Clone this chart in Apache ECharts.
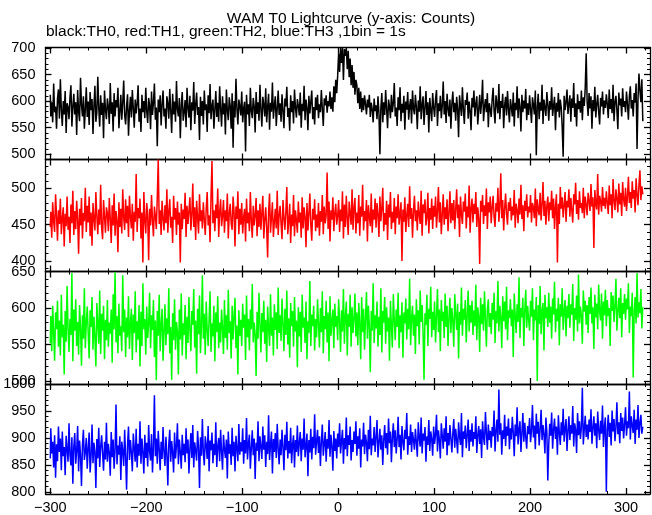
<!DOCTYPE html>
<html>
<head>
<meta charset="utf-8">
<script src="https://cdn.jsdelivr.net/npm/echarts@6/dist/echarts.min.js"></script>
<style>html,body{margin:0;padding:0;background:#fff;}#chart{width:652px;height:515px;}</style>
</head>
<body>
<div id="chart"></div>
<script>
// ---- data (1 bin = 1 s, first bin at t = -300 s) ----
const T_START = -300;
const BIN = 1;

const th0 = [
612,571,598,560,633,579,590,548,605,622,567,641,584,553,600,575,619,540,596,588,
566,607,630,552,589,614,575,598,536,621,580,562,644,593,571,609,548,585,626,570,
599,555,617,583,604,538,592,629,561,578,646,587,552,611,574,597,530,620,583,566,
605,589,557,634,576,598,543,615,571,602,588,625,549,580,612,565,597,639,574,556,
590,613,535,582,608,569,621,586,550,603,577,595,630,561,586,542,612,579,600,568,
625,581,559,606,592,547,618,574,597,633,565,588,515,603,579,611,554,594,620,571,
586,548,609,596,567,623,582,540,614,575,599,561,638,584,571,606,530,592,617,563,
579,602,551,625,587,569,610,545,598,582,636,557,593,616,574,589,527,608,572,600,
556,620,583,594,542,611,577,632,566,590,603,548,584,619,570,597,561,628,586,552,
609,575,596,537,622,583,564,607,591,548,615,512,600,569,642,585,556,603,590,573,
618,560,587,599,505,612,575,594,553,625,581,568,606,590,541,617,576,598,563,631,
584,552,608,593,571,624,560,589,614,546,597,580,635,567,592,609,553,586,620,574,
596,561,613,582,549,605,590,627,570,587,544,611,579,600,558,622,588,569,604,591,
573,616,550,595,581,629,564,603,587,545,610,577,598,620,566,589,556,607,583,612,
568,594,579,621,586,553,605,592,611,578,600,590,618,585,607,580,628,598,640,615,
648,690,655,700,672,700,640,698,685,700,660,695,645,680,630,668,625,655,612,640,
630,596,625,585,618,579,606,583,611,594,575,603,588,612,570,597,584,560,605,581,
592,566,609,578,500,587,615,560,598,574,621,585,549,603,590,568,612,579,596,634,
571,588,553,607,583,626,562,595,578,610,546,599,584,617,565,591,604,558,620,586,
575,612,589,547,601,580,628,566,593,609,555,587,619,574,598,541,606,583,562,615,
589,570,604,621,553,596,581,610,568,592,637,575,600,559,614,586,571,603,548,594,
618,579,597,563,608,585,532,611,590,572,626,584,557,602,593,616,567,599,581,545,
606,588,620,571,595,609,556,583,612,576,598,640,562,589,604,579,615,551,596,585,
570,603,625,582,558,611,594,577,632,566,600,587,614,549,592,608,573,619,585,560,
604,589,571,616,552,597,583,628,568,605,590,543,612,579,601,586,623,564,596,574,
611,585,559,607,593,575,620,498,589,614,566,598,582,631,557,603,588,572,617,594,
563,600,584,626,572,591,608,545,597,580,615,569,603,588,551,495,610,583,598,622,
576,594,611,561,605,587,634,570,596,552,613,585,600,578,620,564,607,591,625,690,
598,572,615,586,609,548,602,581,627,569,594,612,580,556,606,590,618,575,601,587,
613,594,568,622,585,604,577,631,562,598,610,583,547,616,592,605,571,624,589,600,
579,618,594,565,609,628,586,602,571,615,597,633,510,604,652,620,598,641,562
];

const th1 = [
447,468,432,481,455,440,492,463,428,470,451,486,437,459,474,420,465,448,489,443,
461,425,478,452,497,436,469,444,483,458,410,472,449,487,431,466,455,501,440,476,
453,489,434,467,421,480,458,442,495,462,437,471,450,505,446,430,484,461,439,474,
466,441,487,458,425,477,449,493,435,469,456,412,481,447,472,438,499,460,443,485,
452,476,433,490,461,445,479,428,468,454,520,440,473,459,486,431,467,398,495,457,
438,480,463,401,472,449,491,456,434,475,462,444,488,540,451,470,436,483,459,442,
477,452,499,439,468,485,446,461,425,490,457,473,436,482,450,467,398,479,444,471,
458,494,433,476,451,469,488,442,463,507,447,474,429,483,460,438,492,455,470,445,
481,457,436,472,495,449,463,426,488,538,452,470,441,478,459,500,433,467,485,448,
462,484,439,470,455,493,431,466,479,452,443,489,468,420,475,458,496,437,472,450,
480,438,461,472,427,486,452,467,441,495,455,432,476,449,463,487,434,470,447,479,
443,466,490,431,457,474,446,405,468,493,439,460,481,433,454,472,445,497,436,463,
476,451,430,484,460,443,468,502,437,455,479,425,464,448,491,434,470,456,439,482,
453,467,432,488,445,474,461,419,480,442,465,493,450,428,472,457,485,441,464,446,
480,435,469,454,491,437,475,452,463,522,444,482,427,470,457,488,441,466,479,450,
462,484,440,471,455,496,431,478,447,490,458,436,482,465,450,499,443,473,487,438,
467,452,491,435,475,461,505,442,469,455,484,427,477,462,448,493,439,471,457,486,
446,480,464,433,489,455,472,501,441,466,450,483,429,478,460,495,444,468,453,487,
437,475,459,492,450,465,481,400,471,454,488,440,463,479,447,503,458,473,432,469,
490,455,470,442,482,463,451,497,435,478,466,485,449,460,494,438,473,457,486,444,
476,461,489,446,469,502,453,481,437,465,492,450,474,458,485,441,467,496,452,480,
456,484,444,470,499,459,478,433,489,464,451,482,468,493,445,475,460,504,439,472,
486,453,479,465,495,447,474,459,396,483,468,491,451,477,462,500,444,481,467,489,
452,474,490,461,447,480,468,501,454,476,521,459,484,442,472,493,465,450,481,469,
487,456,475,463,498,446,479,470,452,486,464,505,458,477,441,483,469,492,460,475,
467,491,453,480,474,459,500,448,485,471,463,494,456,478,509,462,483,450,476,489,
455,481,470,497,459,486,444,475,492,398,479,451,502,472,488,460,477,495,454,483,
474,499,461,487,470,453,492,478,508,465,484,457,496,473,480,466,501,459,489,477,
463,494,482,469,506,475,488,418,498,479,471,520,464,490,483,468,502,476,487,472,
496,481,465,504,477,492,459,513,483,470,499,486,467,507,478,494,462,509,485,475,
501,469,488,516,480,495,473,510,486,498,467,514,491,477,505,525,484,503,492
];

const th2 = [
552,589,541,603,566,528,594,571,610,547,583,535,618,560,577,509,596,554,630,572,
540,585,563,648,527,598,569,612,548,581,536,604,573,521,590,558,627,545,579,602,
566,531,597,574,615,543,588,560,520,607,578,551,624,537,592,569,603,530,584,556,
611,547,580,565,598,525,619,571,649,553,589,538,606,562,575,541,645,567,598,533,
587,560,616,544,578,599,529,591,566,623,539,582,557,604,520,595,548,634,571,585,
536,602,559,578,621,545,590,570,611,533,583,501,596,562,618,541,577,599,528,567,
605,549,586,564,627,538,574,502,593,556,612,543,581,568,509,598,557,620,535,579,
563,604,530,588,552,615,571,541,596,577,626,546,583,510,599,564,617,538,575,645,
558,592,536,609,571,548,585,623,540,579,561,603,527,594,567,616,545,580,553,598,
572,537,611,559,590,543,625,566,582,531,603,557,588,614,545,576,509,597,562,584,
548,606,573,591,529,617,560,585,542,598,571,633,553,580,564,507,595,558,621,577,
539,593,567,610,551,584,526,602,573,548,619,562,587,535,605,570,594,544,628,566,
590,555,613,578,541,599,563,624,550,586,532,607,575,596,547,615,568,583,519,601,
561,595,540,618,573,587,552,609,530,582,566,637,548,591,575,603,542,585,560,612,
578,546,600,567,623,538,589,571,610,553,594,527,616,562,581,598,545,606,574,589,
556,612,583,540,597,568,626,551,588,609,535,592,574,618,547,601,566,585,620,561,
594,549,607,578,530,615,567,599,543,586,622,558,603,575,512,596,569,634,552,590,
572,609,547,588,563,627,539,596,580,615,551,601,568,587,528,610,575,546,619,583,
556,598,574,621,545,590,567,608,532,594,579,613,557,599,571,640,549,586,603,562,
591,537,612,575,597,550,624,581,604,566,502,593,577,618,548,599,585,629,560,595,
570,609,553,588,626,567,598,541,611,582,595,559,620,574,603,548,587,614,566,600,
583,547,619,592,570,606,531,595,577,628,562,599,584,611,553,590,624,568,604,580,
610,563,597,575,632,556,601,589,540,614,578,605,569,623,585,547,598,612,574,593,
564,607,584,621,552,596,579,637,568,603,588,545,616,582,609,571,629,556,597,586,
612,575,598,533,620,590,566,605,581,642,559,600,587,614,548,596,625,573,603,584,
569,610,588,627,556,598,583,615,500,604,578,630,564,595,607,542,618,586,601,574,
621,580,602,558,613,591,636,567,599,582,614,549,605,588,627,570,596,611,561,603,
586,619,573,605,591,633,555,600,584,617,568,646,579,602,590,551,624,595,610,577,
604,566,615,592,628,579,601,544,618,587,606,571,632,595,583,620,558,609,590,625,
575,611,589,600,548,622,596,617,581,603,640,569,595,614,586,627,560,607,592,619,
584,613,598,634,566,602,589,621,505,596,615,579,648,587,608,593,626,572,601
];

const th3 = [
862,918,871,893,845,905,826,888,857,921,874,899,840,912,866,883,831,904,878,856,
927,869,849,901,815,884,909,852,876,922,838,895,868,811,887,915,859,874,900,843,
881,910,836,867,925,853,891,874,807,898,862,919,846,883,905,871,839,893,860,928,
856,889,872,830,911,864,897,843,878,962,851,886,869,903,822,893,876,848,915,865,
804,887,921,859,896,872,838,908,880,856,917,845,889,867,931,852,899,873,834,906,
863,891,847,924,875,858,907,836,882,979,866,899,852,913,879,840,893,861,920,873,
848,902,869,812,888,915,856,894,873,836,910,862,885,927,851,897,874,843,906,868,
889,855,918,871,897,834,880,909,863,924,845,892,876,858,913,882,807,901,867,935,
872,849,903,886,861,922,838,895,877,910,853,889,868,929,846,884,900,857,915,874,
841,906,879,863,897,825,912,871,888,850,919,866,893,838,904,880,857,926,869,892,
875,918,852,896,871,937,860,889,906,843,882,914,868,899,824,891,876,931,857,903,
884,861,921,878,905,846,893,870,942,859,887,912,834,898,874,909,863,926,880,851,
897,868,915,883,840,906,877,930,862,894,871,919,853,888,905,845,896,874,923,866,
890,911,857,899,878,936,864,885,908,829,896,873,917,860,902,881,944,869,893,915,
872,903,848,894,925,867,889,911,856,898,880,933,865,906,884,839,913,876,899,862,
908,883,927,871,894,915,852,900,879,938,866,905,887,921,858,896,874,912,889,931,
867,903,880,918,845,897,884,928,870,906,892,857,915,879,941,868,899,886,920,874,
902,933,864,891,917,878,905,850,896,924,881,909,869,936,890,912,855,901,927,883,
914,871,898,939,883,906,860,922,893,877,915,898,946,869,903,887,925,874,911,896,
878,917,892,865,929,900,884,938,871,908,895,920,856,903,887,933,876,912,898,867,
921,889,906,943,875,914,896,862,927,905,880,918,893,940,868,909,886,924,899,873,
908,935,882,917,896,871,929,903,887,946,864,912,898,923,881,906,934,876,915,893,
927,884,911,898,940,872,905,922,889,916,863,931,901,887,948,909,878,925,896,913,
882,920,903,951,875,912,934,893,990,906,927,869,914,898,943,885,921,904,936,879,
918,897,939,910,866,925,903,957,888,915,931,874,909,946,893,928,901,880,922,907,
937,892,914,961,901,923,879,945,908,930,886,917,952,896,924,906,871,938,912,821,
889,926,904,947,880,915,936,898,921,869,942,910,887,929,905,954,893,918,935,876,
913,940,896,924,908,959,884,927,915,872,946,905,931,898,920,993,888,916,941,902,
925,897,934,911,953,889,918,940,904,927,881,949,915,896,932,908,960,883,921,938,
800,915,943,902,928,886,951,912,935,894,920,966,907,929,890,946,913,938,899,925,
957,904,931,918,986,897,940,923,909,952,889,934,915,961,900,927,943,908,921
];

// ---- tick labels / tick positions ----
const xMajor = [-300, -200, -100, 0, 100, 200, 300];
const xMinor = [-300,-280,-260,-240,-220,-200,-180,-160,-140,-120,-100,-80,-60,-40,-20,0,
                20,40,60,80,100,120,140,160,180,200,220,240,260,280,300,320];
const yMajor = [
  [500, 550, 600, 650, 700],
  [400, 450, 500],
  [500, 550, 600, 650],
  [800, 850, 900, 950, 1000]
];
const yMinor = [
  [490,500,510,520,530,540,550,560,570,580,590,600,610,620,630,640,650,660,670,680,690,700],
  [390,400,410,420,430,440,450,460,470,480,490,500,510,520,530,540],
  [500,510,520,530,540,550,560,570,580,590,600,610,620,630,640,650],
  [800,810,820,830,840,850,860,870,880,890,900,910,920,930,940,950,960,970,980,990,1000]
];
const titleText = 'WAM T0 Lightcurve (y-axis: Counts)';
const subText = 'black:TH0, red:TH1, green:TH2, blue:TH3 ,1bin = 1s';

// ---- layout / style ----
const FONT = 'Liberation Sans, Arial, Helvetica, sans-serif';
const seriesList = [th0, th1, th2, th3];
const colors = ['#000000', '#ff0000', '#00ff00', '#0000ff'];
const yRange = [[490, 701], [385.5, 540], [496, 650], [796, 1000]];
const panelTop = [47.5, 159.5, 271.5, 384];
const panelH = [112, 112, 112.5, 111.5];
const X_MIN = -305, X_MAX = 325;

const grids = [], xAxes = [], yAxes = [], series = [];
const lineCol = '#000';

for (let g = 0; g < 4; g++) {
  grids.push({ left: 45.5, right: 2, top: panelTop[g], height: panelH[g], containLabel: false });
  const xBase = xAxes.length, yBase = yAxes.length;
  ['bottom', 'top'].forEach(pos => {
    xAxes.push({
      type: 'value', gridIndex: g, position: pos, min: X_MIN, max: X_MAX,
      axisLine: { show: true, onZero: false, lineStyle: { color: lineCol, width: 1.3 } },
      axisTick: { show: true, inside: true, length: 6, customValues: xMajor, lineStyle: { color: lineCol, width: 1.3 } },
      axisLabel: {
        show: (g === 3 && pos === 'bottom'), customValues: xMajor, margin: 6,
        color: '#000', fontSize: 14.5, fontFamily: FONT,
        formatter: v => String(v).replace('-', '\u2212')
      },
      splitLine: { show: false }
    });
    xAxes.push({
      type: 'value', gridIndex: g, position: pos, min: X_MIN, max: X_MAX,
      axisLine: { show: false, onZero: false },
      axisTick: { show: true, inside: true, length: 3, customValues: xMinor, lineStyle: { color: lineCol, width: 1 } },
      axisLabel: { show: false },
      splitLine: { show: false }
    });
  });
  ['left', 'right'].forEach(pos => {
    yAxes.push({
      type: 'value', gridIndex: g, position: pos, min: yRange[g][0], max: yRange[g][1],
      axisLine: { show: true, onZero: false, lineStyle: { color: lineCol, width: 1.3 } },
      axisTick: { show: true, inside: true, length: 6, customValues: yMajor[g], lineStyle: { color: lineCol, width: 1.3 } },
      axisLabel: {
        show: pos === 'left', customValues: yMajor[g], margin: 10,
        color: '#000', fontSize: 14.5, fontFamily: FONT,
        formatter: v => String(v)
      },
      splitLine: { show: false }
    });
    yAxes.push({
      type: 'value', gridIndex: g, position: pos, min: yRange[g][0], max: yRange[g][1],
      axisLine: { show: false, onZero: false },
      axisTick: { show: true, inside: true, length: 3, customValues: yMinor[g], lineStyle: { color: lineCol, width: 1 } },
      axisLabel: { show: false },
      splitLine: { show: false }
    });
  });
  series.push({
    type: 'line', xAxisIndex: xBase, yAxisIndex: yBase,
    data: seriesList[g].map((v, i) => [T_START + i * BIN, v]),
    step: 'middle',
    showSymbol: false, symbol: 'none', clip: true,
    lineStyle: { color: colors[g], width: 1.5 },
    itemStyle: { color: colors[g] },
    animation: false, silent: true
  });
}

const chart = echarts.init(document.getElementById('chart'), null, { renderer: 'canvas' });
chart.setOption({
  backgroundColor: '#fff',
  animation: false,
  grid: grids,
  xAxis: xAxes,
  yAxis: yAxes,
  series: series,
  graphic: [
    { type: 'text', x: 351, y: 19, style: { text: titleText, font: '15.5px ' + FONT, fill: '#000', textAlign: 'center', textVerticalAlign: 'middle' } },
    { type: 'text', x: 46, y: 32, style: { text: subText, font: '15.5px ' + FONT, fill: '#000', textAlign: 'left', textVerticalAlign: 'middle' } }
  ]
});
</script>
</body>
</html>
